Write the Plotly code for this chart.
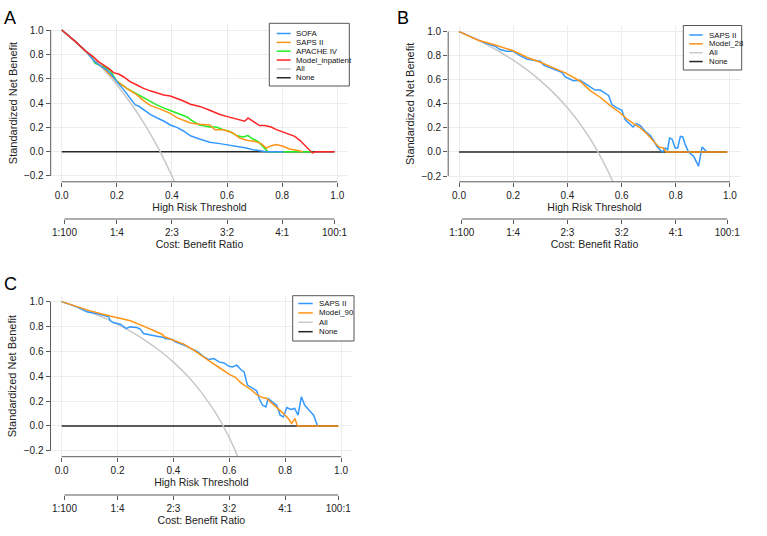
import plotly.graph_objects as go

W, H = 767, 536

# ---------------- data ----------------
# Panel A
a_sofa_t = [0, 0.05, 0.09, 0.12, 0.15, 0.164, 0.182, 0.2, 0.224, 0.248, 0.267, 0.279, 0.297, 0.321, 0.345,
            0.37, 0.394, 0.418, 0.442, 0.467, 0.5, 0.537, 0.574, 0.598, 0.622, 0.646, 0.67, 0.694, 0.718, 0.742, 0.805]
a_sofa_v = [1.0, 0.905, 0.82, 0.74, 0.69, 0.671, 0.63, 0.575, 0.512, 0.438, 0.384, 0.375, 0.348, 0.307, 0.279,
            0.252, 0.219, 0.2, 0.17, 0.13, 0.104, 0.077, 0.066, 0.058, 0.049, 0.044, 0.030, 0.016, 0.011, 0.0, 0.0]

a_saps_t = [0, 0.05, 0.09, 0.121, 0.15, 0.2, 0.236, 0.273, 0.297, 0.321, 0.358, 0.394, 0.418, 0.442, 0.467,
            0.5, 0.537, 0.556, 0.586, 0.622, 0.646, 0.67, 0.70, 0.724, 0.742, 0.76, 0.779, 0.803, 0.827, 0.852, 0.875]
a_saps_v = [1.0, 0.905, 0.82, 0.74, 0.69, 0.58, 0.52, 0.466, 0.42, 0.38, 0.35, 0.315, 0.28, 0.255, 0.235,
            0.225, 0.22, 0.18, 0.18, 0.153, 0.112, 0.093, 0.085, 0.066, 0.030, 0.049, 0.058, 0.044, 0.022, 0.011, 0.0]

a_apache_t = [0, 0.05, 0.09, 0.105, 0.121, 0.152, 0.176, 0.2, 0.236, 0.273, 0.309, 0.345, 0.382, 0.418, 0.455,
              0.47, 0.485, 0.5, 0.537, 0.56, 0.586, 0.61, 0.634, 0.658, 0.676, 0.694, 0.712, 0.73, 0.748, 0.91]
a_apache_v = [1.0, 0.905, 0.82, 0.79, 0.726, 0.699, 0.666, 0.58, 0.52, 0.474, 0.43, 0.384, 0.348, 0.32, 0.285,
              0.26, 0.24, 0.218, 0.203, 0.203, 0.181, 0.167, 0.132, 0.121, 0.132, 0.104, 0.085, 0.044, 0.0, 0.0]

a_model_t = [0, 0.05, 0.09, 0.115, 0.133, 0.152, 0.17, 0.188, 0.206, 0.224, 0.248, 0.273, 0.297, 0.321, 0.345,
             0.37, 0.394, 0.418, 0.442, 0.467, 0.501, 0.537, 0.574, 0.598, 0.622, 0.646, 0.664, 0.676, 0.694,
             0.718, 0.736, 0.76, 0.779, 0.803, 0.827, 0.846, 0.864, 0.882, 0.898, 0.91, 0.922, 0.99]
a_model_v = [1.0, 0.905, 0.82, 0.78, 0.74, 0.712, 0.685, 0.65, 0.638, 0.616, 0.575, 0.548, 0.52, 0.50, 0.485,
             0.466, 0.458, 0.438, 0.416, 0.39, 0.372, 0.34, 0.305, 0.29, 0.277, 0.263, 0.25, 0.277, 0.25,
             0.214, 0.214, 0.203, 0.181, 0.159, 0.140, 0.126, 0.093, 0.049, 0.016, -0.011, 0.0, 0.0]

a_all_t = [0, 0.05, 0.1, 0.15, 0.2, 0.25, 0.3, 0.35, 0.4, 0.43]
a_all_v = [1.0, 0.905, 0.80, 0.682, 0.55, 0.40, 0.229, 0.031, -0.20, -0.35]

# Panel B
b_saps_t = [0, 0.071, 0.102, 0.133, 0.151, 0.176, 0.2, 0.225, 0.25, 0.275,
            0.3, 0.312, 0.349, 0.379, 0.392, 0.422, 0.447, 0.484, 0.502, 0.521,
            0.533, 0.552, 0.564, 0.583, 0.601, 0.613, 0.626, 0.642, 0.654, 0.669,
            0.687, 0.706, 0.718, 0.73, 0.743, 0.752, 0.761, 0.77, 0.777, 0.786,
            0.798, 0.807, 0.817, 0.826, 0.835, 0.847, 0.866, 0.884, 0.897, 0.913]
b_saps_v = [1.0, 0.929, 0.901, 0.879, 0.851, 0.837, 0.837, 0.801, 0.773, 0.762,
            0.754, 0.721, 0.69, 0.663, 0.624, 0.593, 0.596, 0.54, 0.515, 0.515,
            0.50, 0.47, 0.394, 0.366, 0.347, 0.269, 0.241, 0.208, 0.236, 0.219,
            0.172, 0.136, 0.097, 0.047, 0.014, 0.0, 0.033, 0.019, 0.116, 0.108,
            0.033, 0.033, 0.13, 0.125, 0.061, 0.0, -0.036, -0.119, 0.042, 0.005]

b_model_t = [0, 0.071, 0.127, 0.198, 0.25, 0.3, 0.349, 0.398, 0.447, 0.484, 0.521, 0.558, 0.595,
             0.62, 0.644, 0.669, 0.693, 0.718, 0.737, 0.753, 0.765, 0.99]
b_model_v = [1.0, 0.929, 0.893, 0.843, 0.787, 0.746, 0.699, 0.651, 0.588, 0.51, 0.455, 0.385, 0.324,
             0.274, 0.236, 0.2, 0.152, 0.089, 0.042, 0.033, 0.0, 0.0]

b_all_t = [0, 0.05, 0.1, 0.15, 0.2, 0.25, 0.3, 0.35, 0.4, 0.45, 0.5, 0.55, 0.6]
b_all_v = [1.0, 0.950, 0.895, 0.833, 0.763, 0.684, 0.593, 0.489, 0.367, 0.224, 0.051, -0.160, -0.424]

# Panel C
c_saps_t = [0, 0.054, 0.09, 0.132, 0.168, 0.174, 0.186, 0.21, 0.231, 0.246, 0.269, 0.281, 0.293, 0.317,
            0.341, 0.365, 0.371, 0.395, 0.407, 0.437, 0.461, 0.485, 0.509, 0.527, 0.545, 0.563, 0.581,
            0.599, 0.611, 0.627, 0.641, 0.653, 0.665, 0.683, 0.698, 0.707, 0.719, 0.731, 0.739, 0.754,
            0.77, 0.782, 0.794, 0.806, 0.82, 0.834, 0.846, 0.858, 0.87, 0.886, 0.902, 0.916]
c_saps_v = [1.0, 0.958, 0.918, 0.9, 0.878, 0.846, 0.83, 0.819, 0.784, 0.797, 0.792, 0.779, 0.744, 0.73,
            0.722, 0.711, 0.703, 0.695, 0.676, 0.65, 0.627, 0.60, 0.556, 0.534, 0.542, 0.515, 0.507,
            0.48, 0.475, 0.489, 0.454, 0.435, 0.328, 0.301, 0.282, 0.22, 0.166, 0.153, 0.22, 0.193,
            0.166, 0.086, 0.072, 0.148, 0.132, 0.14, 0.086, 0.234, 0.166, 0.126, 0.086, 0.0]

c_model_t = [0, 0.054, 0.102, 0.162, 0.2, 0.246, 0.293, 0.329, 0.359, 0.368, 0.401, 0.437, 0.473, 0.497,
             0.533, 0.569, 0.599, 0.623, 0.638, 0.653, 0.677, 0.701, 0.719, 0.734, 0.754, 0.775, 0.794,
             0.811, 0.823, 0.835, 0.844, 0.99]
c_model_v = [1.0, 0.958, 0.926, 0.891, 0.872, 0.846, 0.803, 0.77, 0.738, 0.717, 0.69, 0.658, 0.609, 0.569,
             0.515, 0.462, 0.416, 0.389, 0.354, 0.328, 0.293, 0.247, 0.228, 0.22, 0.18, 0.14, 0.099,
             0.059, 0.019, 0.059, 0.0, 0.0]

c_all_t = [0, 0.05, 0.1, 0.15, 0.2, 0.25, 0.3, 0.35, 0.4, 0.45, 0.5, 0.55, 0.6, 0.65]
c_all_v = [1.0, 0.962, 0.919, 0.871, 0.818, 0.757, 0.687, 0.607, 0.513, 0.403, 0.270, 0.108, -0.095, -0.356]

none_t = [0, 0.99]
none_v = [0, 0]

thr_ticks = [0.0, 0.2, 0.4, 0.6, 0.8, 1.0]
thr_labels = ["0.0", "0.2", "0.4", "0.6", "0.8", "1.0"]
nb_ticks = [-0.2, 0.0, 0.2, 0.4, 0.6, 0.8, 1.0]
nb_labels = ["\u22120.2", "0.0", "0.2", "0.4", "0.6", "0.8", "1.0"]
cb_ticks = [0.01, 0.2, 0.4, 0.6, 0.8, 0.99]
cb_labels = ["1:100", "1:4", "2:3", "3:2", "4:1", "100:1"]

# ---------------- styling ----------------
BLUE = "#3399FF"
ORANGE = "#FF9416"
GREEN = "#22EE22"
RED = "#FF2424"
GRAY = "#C8C8C8"
BLACK = "#262626"
AX = "#5a5a5a"
GRID = "#ececec"
TXT = "#222222"
FONT = "Liberation Sans, Arial, sans-serif"
LW = 1.5

fig = go.Figure()

panels = [
    dict(n="", cb="4", box=(50.7, 348.3, 24.2, 181.8), cb_y=219, letter="A", letter_xy=(3, 18.5),
         curves=[("APACHE IV", a_apache_t, a_apache_v, GREEN),
                 ("SAPS II", a_saps_t, a_saps_v, ORANGE),
                 ("SOFA", a_sofa_t, a_sofa_v, BLUE),
                 ("Model_inpatient", a_model_t, a_model_v, RED)],
         all=(a_all_t, a_all_v),
         legend=[("SOFA", BLUE), ("SAPS II", ORANGE), ("APACHE IV", GREEN),
                 ("Model_inpatient", RED), ("All", GRAY), ("None", BLACK)],
         lbox=(269.3, 349.3, 23.3, 86.0), lrow0=33.5, lstep=8.85, lline=(276.7, 290.7), ltext=294.5),
    dict(n="2", cb="5", box=(448.2, 740.8, 25.9, 181.8), cb_y=219, letter="B", letter_xy=(396, 18.5),
         curves=[("SAPS II", b_saps_t, b_saps_v, BLUE),
                 ("Model_28", b_model_t, b_model_v, ORANGE)],
         all=(b_all_t, b_all_v),
         legend=[("SAPS II", BLUE), ("Model_28", ORANGE), ("All", GRAY), ("None", BLACK)],
         lbox=(683.3, 741.7, 25.5, 70.0), lrow0=35.0, lstep=8.85, lline=(689.3, 702.7), ltext=707.8),
    dict(n="3", cb="6", box=(50.5, 352.2, 295.7, 456.7), cb_y=495, letter="C", letter_xy=(3, 283.5),
         curves=[("SAPS II", c_saps_t, c_saps_v, BLUE),
                 ("Model_90", c_model_t, c_model_v, ORANGE)],
         all=(c_all_t, c_all_v),
         legend=[("SAPS II", BLUE), ("Model_90", ORANGE), ("All", GRAY), ("None", BLACK)],
         lbox=(292.7, 354.0, 295.7, 341.0), lrow0=303.5, lstep=9.4, lline=(298.3, 312.7), ltext=317.8),
]

shapes = []
annotations = []
layout_axes = {}

def px(x):
    return x / W

def py(y):
    return 1 - y / H

for p in panels:
    xid, yid, cbid = "x" + p["n"], "y" + p["n"], "x" + p["cb"]
    l, r, t, b = p["box"]
    fig.add_trace(go.Scatter(x=none_t, y=none_v, mode="lines", line=dict(color=BLACK, width=LW),
                             xaxis=xid, yaxis=yid, name="None", showlegend=False, hoverinfo="skip"))
    fig.add_trace(go.Scatter(x=p["all"][0], y=p["all"][1], mode="lines",
                             line=dict(color=GRAY, width=LW, shape="spline"),
                             xaxis=xid, yaxis=yid, name="All", showlegend=False, hoverinfo="skip"))
    for name, tt, vv, col in p["curves"]:
        fig.add_trace(go.Scatter(x=tt, y=vv, mode="lines", line=dict(color=col, width=LW),
                                 xaxis=xid, yaxis=yid, name=name, showlegend=False, hoverinfo="skip"))
    fig.add_trace(go.Scatter(x=[], y=[], xaxis=cbid, yaxis=yid, showlegend=False, hoverinfo="skip"))

    tickfont = dict(family=FONT, size=10, color=TXT)
    titlefont = dict(family=FONT, size=10.5, color=TXT)
    layout_axes["xaxis" + p["n"]] = dict(
        domain=[px(l), px(r)], range=[-0.04, 1.04], anchor=yid, tickvals=thr_ticks, ticktext=thr_labels,
        ticks="outside", ticklen=4, tickwidth=1, tickcolor=AX, showline=False, showgrid=True,
        gridcolor=GRID, gridwidth=1, zeroline=False, tickfont=tickfont, fixedrange=True,
        title=dict(text="High Risk Threshold", font=titlefont, standoff=3))
    layout_axes["yaxis" + p["n"]] = dict(
        domain=[py(b), py(t)], range=[-0.248, 1.048], anchor=xid, tickvals=nb_ticks, ticktext=nb_labels,
        ticks="outside", ticklen=4, tickwidth=1, tickcolor=AX, showline=False, showgrid=True,
        gridcolor=GRID, gridwidth=1, zeroline=False, tickfont=tickfont, fixedrange=True,
        title=dict(text="Standardized Net Benefit", font=dict(family=FONT, size=11, color=TXT), standoff=4))
    layout_axes["xaxis" + p["cb"]] = dict(
        overlaying=xid, anchor="free", position=py(p["cb_y"]), side="bottom", range=[-0.04, 1.04],
        tickvals=cb_ticks, ticktext=cb_labels, ticks="outside", ticklen=4, tickwidth=1, tickcolor=AX,
        showline=False, showgrid=False, zeroline=False, tickfont=tickfont, fixedrange=True,
        title=dict(text="Cost: Benefit Ratio", font=titlefont, standoff=2))

    # axis lines spanning the tick range (base-R style)
    shapes.append(dict(type="line", xref=xid, yref=yid + " domain", x0=0, x1=1, y0=0, y1=0,
                       line=dict(color=AX, width=1)))
    shapes.append(dict(type="line", xref=xid + " domain", yref=yid, x0=0, x1=0, y0=-0.2, y1=1.0,
                       line=dict(color=AX, width=1)))
    shapes.append(dict(type="line", xref=xid, yref="paper", x0=cb_ticks[0], x1=cb_ticks[-1],
                       y0=py(p["cb_y"]), y1=py(p["cb_y"]), line=dict(color=AX, width=1)))

    # legend box
    bl, br, bt, bb = p["lbox"]
    shapes.append(dict(type="rect", xref="paper", yref="paper", x0=px(bl), x1=px(br), y0=py(bb), y1=py(bt),
                       line=dict(color="#555555", width=1), fillcolor="white", layer="above"))
    for i, (lab, col) in enumerate(p["legend"]):
        yy = p["lrow0"] + i * p["lstep"]
        shapes.append(dict(type="line", xref="paper", yref="paper", x0=px(p["lline"][0]), x1=px(p["lline"][1]),
                           y0=py(yy), y1=py(yy), line=dict(color=col, width=LW), layer="above"))
        annotations.append(dict(text=lab, xref="paper", yref="paper", x=px(p["ltext"]), y=py(yy),
                                xanchor="left", yanchor="middle", showarrow=False,
                                font=dict(family=FONT, size=7.8, color="#111111"), borderpad=0))

    annotations.append(dict(text=p["letter"], xref="paper", yref="paper", x=px(p["letter_xy"][0]),
                            y=py(p["letter_xy"][1]), xanchor="left", yanchor="middle", showarrow=False,
                            font=dict(family=FONT, size=18, color="#000000"), borderpad=0))

fig.update_layout(
    width=W, height=H, autosize=False,
    margin=dict(l=0, r=0, t=0, b=0),
    paper_bgcolor="white", plot_bgcolor="white",
    showlegend=False, hovermode=False,
    shapes=shapes, annotations=annotations,
    font=dict(family=FONT, color=TXT),
    **layout_axes,
)

fig.write_html("out.html", config={"displayModeBar": False},
               post_script="document.body.style.margin='0';")
